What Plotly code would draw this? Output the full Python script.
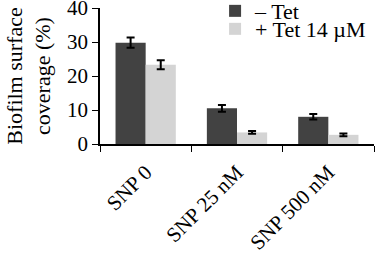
import plotly.graph_objects as go

categories = ["SNP 0", "SNP 25 nM", "SNP 500 nM"]
minus_tet = [29.8, 10.5, 8.0]
minus_tet_err = [1.5, 1.0, 0.8]
plus_tet = [23.3, 3.4, 2.7]
plus_tet_err = [1.3, 0.4, 0.4]
y_ticks = [0, 10, 20, 30, 40]

font = "Liberation Serif, Times New Roman, serif"

fig = go.Figure()
fig.add_trace(go.Bar(
    x=categories, y=minus_tet, name="– Tet", legend="legend",
    marker=dict(color="#424242", line=dict(width=0)),
    error_y=dict(type="data", array=minus_tet_err, color="black", thickness=2, width=4),
))
fig.add_trace(go.Bar(
    x=categories, y=plus_tet, name="+ Tet 14 µM", legend="legend2",
    marker=dict(color="#d4d4d4", line=dict(width=0)),
    error_y=dict(type="data", array=plus_tet_err, color="black", thickness=2, width=4),
))

legend_common = dict(x=0.42, xanchor="left", yanchor="middle", yref="container",
                     bgcolor="rgba(0,0,0,0)", font=dict(size=22), itemwidth=30)

fig.update_layout(
    width=375, height=257,
    margin=dict(l=100, r=1, t=8, b=113, autoexpand=False),
    paper_bgcolor="white", plot_bgcolor="white",
    font=dict(family=font, size=21, color="black"),
    barmode="group", bargap=0.34, bargroupgap=0,
    showlegend=True,
    legend=dict(y=0.957, **legend_common),
    legend2=dict(y=0.887, **legend_common),
)
fig.update_yaxes(range=[0, 40], tickvals=y_ticks, showline=True, linecolor="black",
                 linewidth=1.5, ticks="outside", ticklen=6, tickcolor="black",
                 showgrid=False, zeroline=False, automargin=False,
                 ticklabeloverflow="allow",
                 title=dict(text="Biofilm surface<br>coverage (%)", font=dict(size=22), standoff=10))
fig.update_xaxes(showline=True, linecolor="black", linewidth=1.5, ticks="outside",
                 tickson="boundaries", ticklen=6, tickcolor="black", tickangle=-45,
                 showgrid=False, automargin=False, tickfont=dict(size=21),
                 ticklabeloverflow="allow", ticklabelstandoff=6)

fig.write_html("out.html", config={"displayModeBar": False},
               post_script="document.body.style.margin='0';")
